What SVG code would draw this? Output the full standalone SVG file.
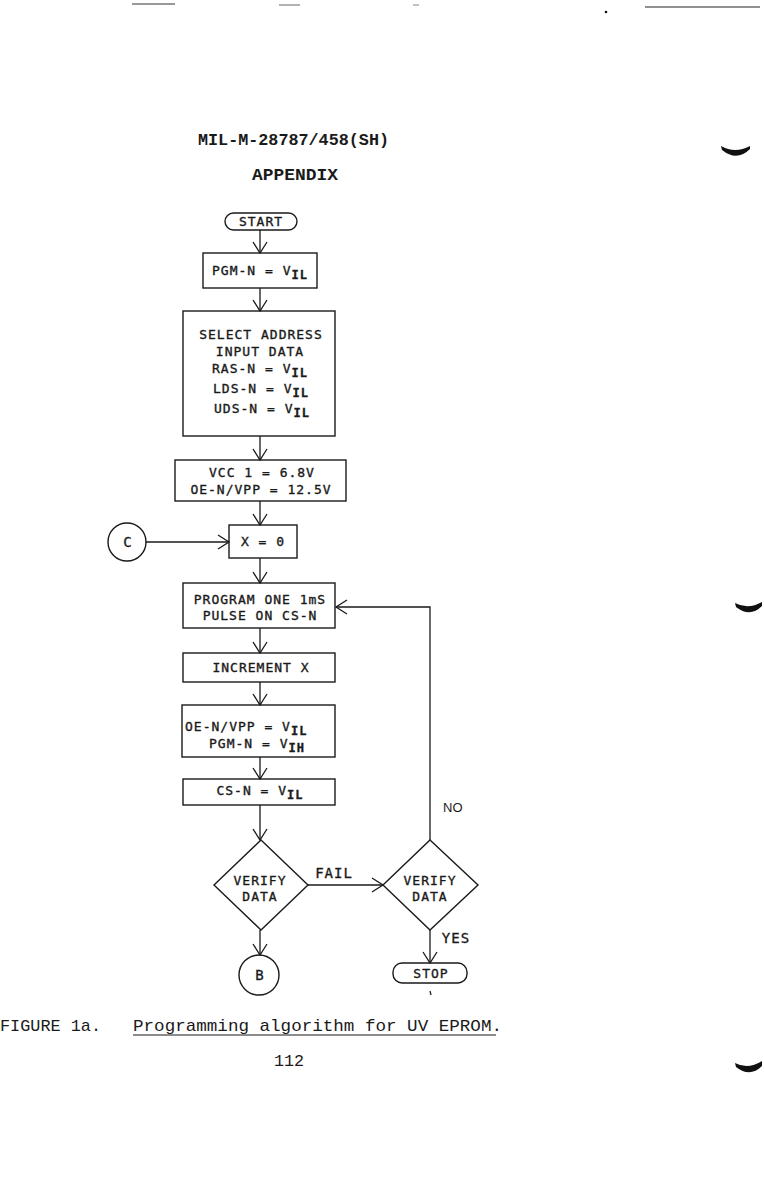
<svg xmlns="http://www.w3.org/2000/svg" width="764" height="1182" viewBox="0 0 764 1182">
<style>
.b{fill:none;stroke:#1a1a1a;stroke-width:1.4}
.c{fill:none;stroke:#1a1a1a;stroke-width:1.3}
.t{font-family:"DejaVu Sans Mono","Liberation Mono",monospace;font-size:13px;letter-spacing:1px;fill:#1a1a1a;stroke:#1a1a1a;stroke-width:0.35;text-anchor:middle}
.h{font-family:"Liberation Mono","DejaVu Sans Mono",monospace;font-size:17px;font-weight:bold;fill:#1a1a1a}
.cap{font-family:"Liberation Mono","DejaVu Sans Mono",monospace;font-size:17px;fill:#1a1a1a}
.s{font-family:"Liberation Sans",Arial,sans-serif;font-size:13px;fill:#1a1a1a}
.sub{font-size:12px;font-weight:bold}
.m{fill:#111;stroke:none}
</style>
<defs>
<marker id="ar" markerUnits="userSpaceOnUse" markerWidth="24" markerHeight="24" viewBox="-12 -12 24 24" refX="0" refY="0" orient="auto">
<path d="M-11,-7 L0,0 L-11,7" fill="none" stroke="#1a1a1a" stroke-width="1.3"/>
</marker>
</defs>
<rect width="764" height="1182" fill="#ffffff"/>
<g id="artifacts">
<line x1="132" y1="4" x2="175" y2="4" stroke="#333" stroke-width="1.2"/>
<line x1="279" y1="5" x2="300" y2="5" stroke="#666" stroke-width="1"/>
<line x1="413" y1="5" x2="419" y2="5" stroke="#888" stroke-width="1"/>
<circle cx="606" cy="12" r="1.3" class="m"/>
<line x1="645" y1="7" x2="760" y2="7" stroke="#222" stroke-width="1.2"/>
<path class="m" d="M721,146 Q735,154 750,146 L750,149 Q737,162 722,150 Z"/>
<path class="m" d="M735,603 Q748,610 762,602 L762,606 Q750,618 736,607 Z"/>
<path class="m" d="M735,1063 Q748,1070 762,1061 L762,1066 Q750,1078 736,1067 Z"/>
<line x1="430" y1="991" x2="431" y2="995" stroke="#222" stroke-width="1.3"/>
</g>
<g id="header">
<text class="h" x="198" y="145" textLength="191" lengthAdjust="spacingAndGlyphs">MIL-M-28787/458(SH)</text>
<text class="h" x="252" y="180" textLength="86" lengthAdjust="spacingAndGlyphs">APPENDIX</text>
</g>
<g id="connectors">
<line class="c" x1="260" y1="230" x2="260" y2="253" marker-end="url(#ar)"/>
<line class="c" x1="260" y1="288" x2="260" y2="311" marker-end="url(#ar)"/>
<line class="c" x1="260" y1="436" x2="260" y2="460" marker-end="url(#ar)"/>
<line class="c" x1="260" y1="501" x2="260" y2="525" marker-end="url(#ar)"/>
<line class="c" x1="146" y1="542" x2="229" y2="542" marker-end="url(#ar)"/>
<line class="c" x1="260" y1="558" x2="260" y2="583" marker-end="url(#ar)"/>
<line class="c" x1="260" y1="628" x2="260" y2="653" marker-end="url(#ar)"/>
<line class="c" x1="260" y1="682" x2="260" y2="705" marker-end="url(#ar)"/>
<line class="c" x1="260" y1="757" x2="260" y2="779" marker-end="url(#ar)"/>
<line class="c" x1="260" y1="805" x2="260" y2="840" marker-end="url(#ar)"/>
<line class="c" x1="308" y1="885" x2="383" y2="885" marker-end="url(#ar)"/>
<line class="c" x1="260" y1="930" x2="260" y2="955" marker-end="url(#ar)"/>
<line class="c" x1="430" y1="930" x2="430" y2="963" marker-end="url(#ar)"/>
<polyline class="c" points="430,840 430,607 336,607" marker-end="url(#ar)"/>
<text class="t" x="334" y="878" style="font-size:14px">FAIL</text>
<text class="t" x="456" y="943" style="font-size:14px">YES</text>
<text class="s" x="443" y="812">NO</text>
</g>
<g id="start">
<rect class="b" x="225" y="213" width="72" height="17" rx="8.5"/>
<text class="t" x="261" y="226">START</text>
</g>
<g id="pgm">
<rect class="b" x="203" y="253" width="114" height="35"/>
<text class="t" x="260" y="275">PGM-N = V<tspan class="sub" dy="4">IL</tspan></text>
</g>
<g id="select">
<rect class="b" x="183" y="311" width="152" height="125"/>
<text class="t" x="261" y="339">SELECT ADDRESS</text>
<text class="t" x="260" y="356">INPUT DATA</text>
<text class="t" x="260" y="373">RAS-N = V<tspan class="sub" dy="4">IL</tspan></text>
<text class="t" x="261" y="393">LDS-N = V<tspan class="sub" dy="4">IL</tspan></text>
<text class="t" x="262" y="413">UDS-N = V<tspan class="sub" dy="4">IL</tspan></text>
</g>
<g id="vcc">
<rect class="b" x="175" y="460" width="171" height="41"/>
<text class="t" x="262" y="477">VCC 1 = 6.8V</text>
<text class="t" x="261" y="494">OE-N/VPP = 12.5V</text>
</g>
<g id="c">
<circle class="b" cx="127" cy="542" r="19"/>
<text class="t" x="128" y="547" style="font-size:14px">C</text>
</g>
<g id="x0">
<rect class="b" x="229" y="525" width="68" height="33"/>
<text class="t" x="263" y="546">X = 0</text>
</g>
<g id="program">
<rect class="b" x="183" y="583" width="152" height="45"/>
<text class="t" x="260" y="604">PROGRAM ONE 1mS</text>
<text class="t" x="260" y="620">PULSE ON CS-N</text>
</g>
<g id="increment">
<rect class="b" x="183" y="653" width="152" height="29"/>
<text class="t" x="261" y="672">INCREMENT X</text>
</g>
<g id="oe">
<rect class="b" x="182" y="705" width="153" height="52"/>
<text class="t" x="185" y="731" style="text-anchor:start">OE-N/VPP = V<tspan class="sub" dy="4">IL</tspan></text>
<text class="t" x="257" y="748">PGM-N = V<tspan class="sub" dy="4">IH</tspan></text>
</g>
<g id="cs">
<rect class="b" x="183" y="779" width="152" height="26"/>
<text class="t" x="260" y="795">CS-N = V<tspan class="sub" dy="4">IL</tspan></text>
</g>
<g id="verify1">
<polygon class="b" points="261,840 308,885 261,930 214,885"/>
<text class="t" x="260" y="885">VERIFY</text>
<text class="t" x="260" y="901">DATA</text>
</g>
<g id="verify2">
<polygon class="b" points="430,840 478,885 430,930 383,885"/>
<text class="t" x="430" y="885">VERIFY</text>
<text class="t" x="430" y="901">DATA</text>
</g>
<g id="b">
<circle class="b" cx="259" cy="975" r="20"/>
<text class="t" x="260" y="980" style="font-size:14px">B</text>
</g>
<g id="stop">
<rect class="b" x="393" y="963" width="74" height="20" rx="9"/>
<text class="t" x="431" y="978">STOP</text>
</g>
<g id="caption">
<text class="cap" x="0" y="1031" textLength="101" lengthAdjust="spacingAndGlyphs">FIGURE 1a.</text>
<text class="cap" x="133" y="1031" textLength="369" lengthAdjust="spacingAndGlyphs">Programming algorithm for UV EPROM.</text>
<line x1="133" y1="1035" x2="496" y2="1035" stroke="#1a1a1a" stroke-width="1.2"/>
<text class="cap" x="274" y="1066" textLength="30" lengthAdjust="spacingAndGlyphs">112</text>
</g>
</svg>
